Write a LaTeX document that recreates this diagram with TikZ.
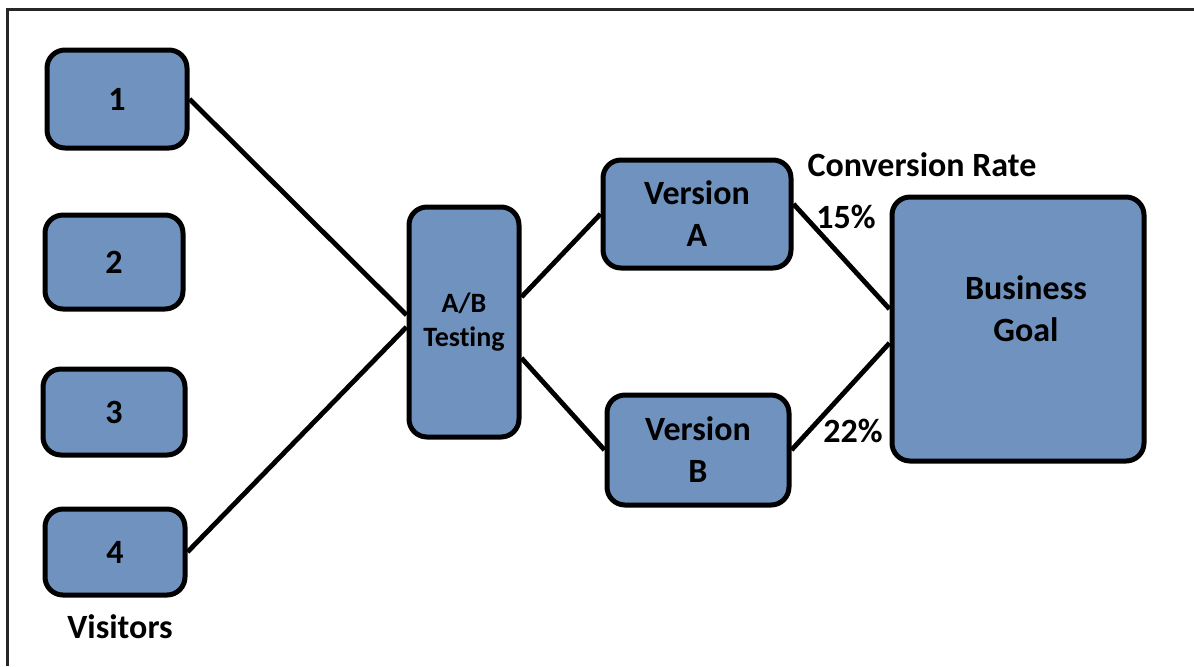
\documentclass[tikz,border=0pt]{standalone}
\usepackage{fontspec}
\setmainfont{Carlito}[Ligatures={NoCommon}]
\definecolor{boxblue}{RGB}{111,146,191}
\begin{document}
\begin{tikzpicture}[x=0.5pt, y=-0.5pt,
            box/.style={draw=black, fill=boxblue, line width=2.5pt, rounded corners=9pt, align=center, inner sep=0pt, font=\fontsize{17}{21}\selectfont\bfseries},
            link/.style={line width=2.4pt, black},
            tag/.style={font=\fontsize{17}{21}\selectfont\bfseries}
        ]
        \useasboundingbox (0,0) rectangle (1194,666);

        % Frame (only top and left edges show)
        \draw[line width=1.5pt, black!85] (7,666) -- (7,9) -- (1194,9);

        % Visitors
        \node[box, minimum width=70pt, minimum height=49pt] (v1) at (117,99) {1};
        \node[box, minimum width=69pt, minimum height=47pt] (v2) at (114,262) {2};
        \node[box, minimum width=71pt, minimum height=43pt] (v3) at (114,412) {3};
        \node[box, minimum width=70pt, minimum height=43pt] (v4) at (115,552) {4};
        \node[tag] (visitors) at (120,627) {Visitors};

        % Splitter
        \node[box, minimum width=55pt, minimum height=115pt, font=\fontsize{14}{17}\selectfont\bfseries] (ab) at (464,322) {A/B\\Testing};

        % Versions
        \node[box, minimum width=94pt, minimum height=54pt] (verA) at (697,214) {Version\\A};
        \node[box, minimum width=91pt, minimum height=55pt] (verB) at (698,450) {Version\\B};

        % Goal
        \node[box, minimum width=126pt, minimum height=132pt,
              label={[font=\fontsize{17}{21}\selectfont\bfseries, align=center, xshift=4pt, yshift=10pt]center:Business\\Goal}] (goal) at (1018,329) {};

        % Connectors
        \draw[link] (v1.east) -- ([yshift=3.5pt]ab.west);
        \draw[link] (v4.east) -- ([yshift=-2.5pt]ab.west);
        \draw[link] ([yshift=12.5pt]ab.east) -- (verA.west);
        \draw[link] ([yshift=-18pt]ab.east) -- (verB.west);
        \draw[link] ([yshift=5pt]verA.east) -- ([yshift=10pt]goal.west);
        \draw[link] (verB.east) -- ([yshift=-7pt]goal.west);

        % Rates
        \node[tag] (rate) at (922,165) {Conversion Rate};
        \node[tag] (rateA) at (846,217) {15\%};
        \node[tag] (rateB) at (853,431) {22\%};

    \end{tikzpicture}
\end{document}
